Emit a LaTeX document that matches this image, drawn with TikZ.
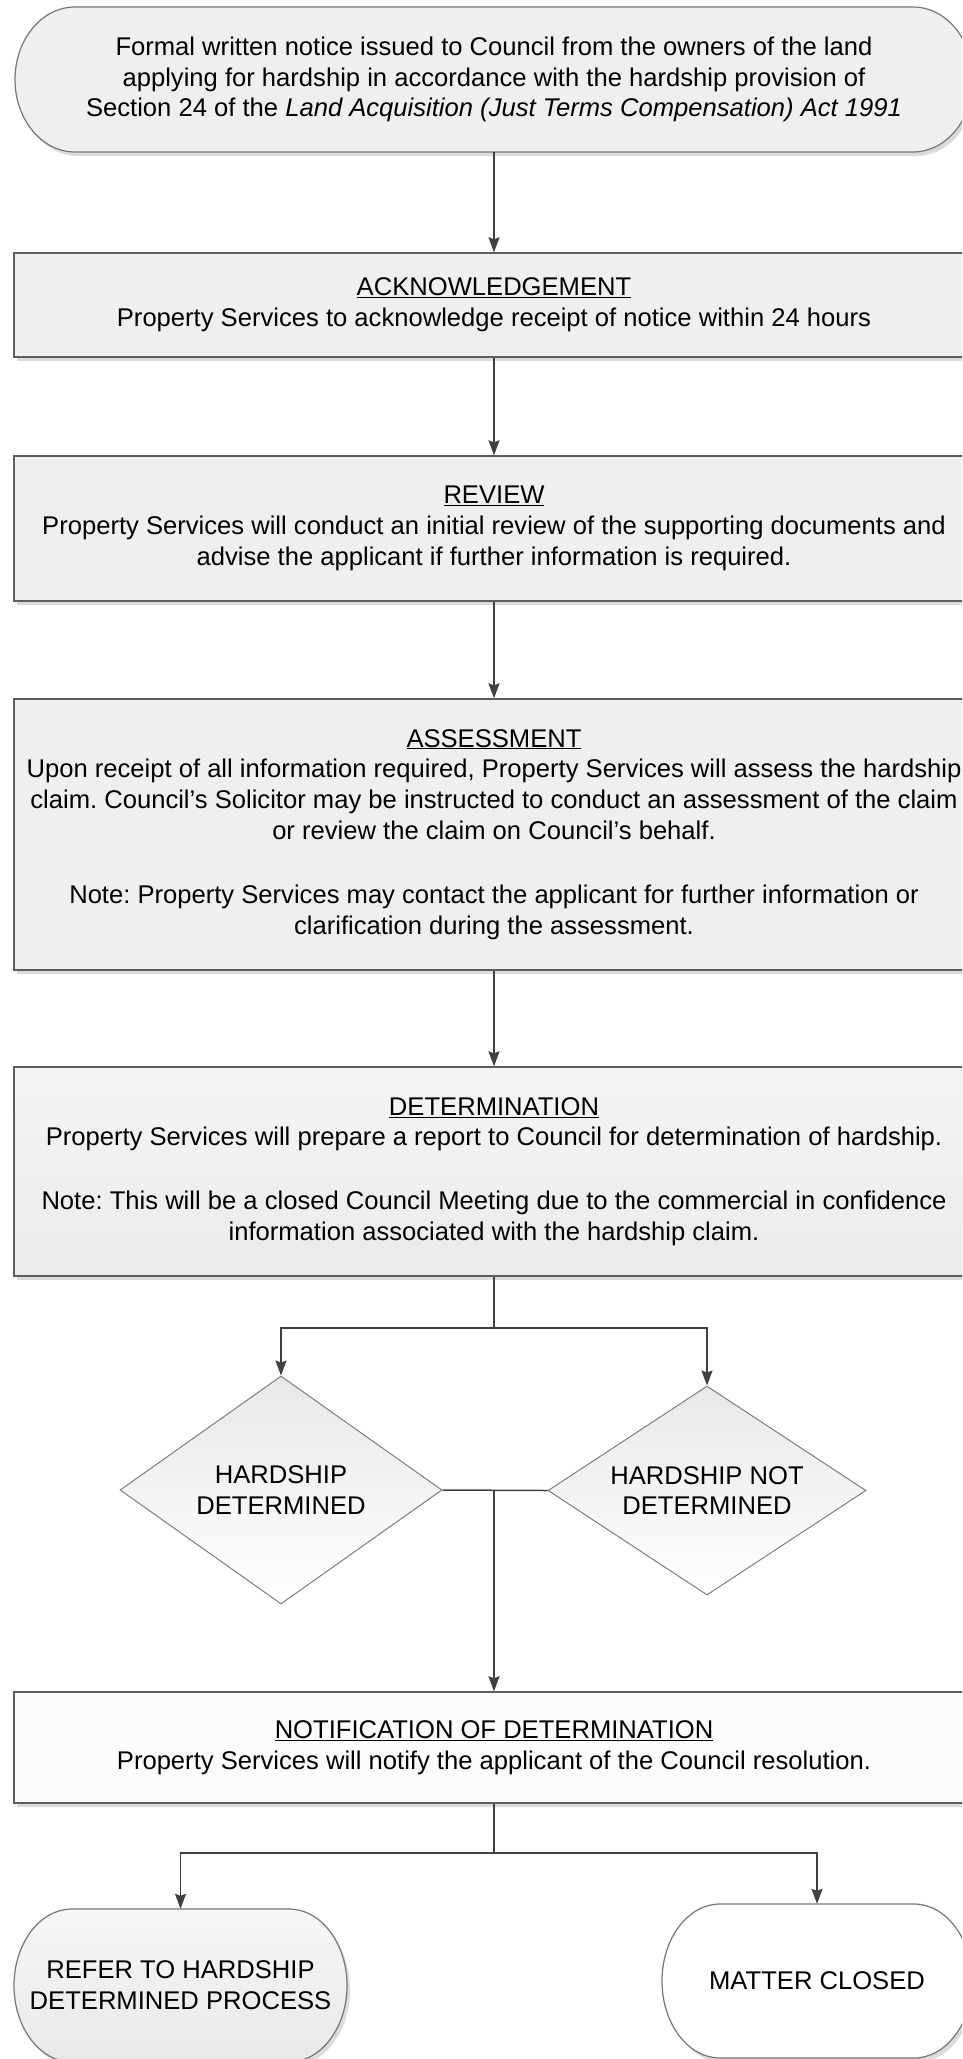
\documentclass[tikz,border=0pt]{standalone}
\usepackage{fontspec}
\setmainfont{Liberation Sans}
\usetikzlibrary{arrows.meta,shapes.geometric,shadows,calc}
\definecolor{linec}{HTML}{404040}
\definecolor{borderc}{HTML}{5E5E5E}
\definecolor{boxfill}{HTML}{EFEFEF}
\frenchspacing
\begin{document}
\begin{tikzpicture}[x=1pt,y=-1pt,
  txt/.style={font=\fontsize{25.6}{30.7}\selectfont\frenchspacing, align=center, text=black, inner sep=0pt},
  shadowed/.style={drop shadow={shadow xshift=3pt,shadow yshift=-4pt,fill=black!14,opacity=1}},
  procbox/.style={txt, rectangle, draw=borderc, line width=1.4pt, fill=boxfill, shadowed, minimum width=960pt},
  termshape/.style={draw=borderc!85, line width=1.2pt, shadowed},
  termnode/.style={txt, rectangle},
  decision/.style={txt, diamond, draw=borderc!80, line width=1pt, top color=black!9, bottom color=white},
  flow/.style={draw=linec, line width=1.5pt, -{Stealth[length=15pt,width=11pt,inset=2pt]}},
  link/.style={draw=linec, line width=1.5pt},
]
\useasboundingbox (0,0) rectangle (962,2059);
\clip (0,0) rectangle (962,2059);
\fill[white] (0,0) rectangle (962,2059);

% terminator outlines
\path[termshape, fill=boxfill] (75,7) -- (913,7)
  arc[start angle=-90,end angle=90,x radius=60,y radius=72.5] -- (75,152)
  arc[start angle=90,end angle=270,x radius=60,y radius=72.5] -- cycle;
\path[termshape, top color=black!3, bottom color=black!9] (72,1909) -- (289,1909)
  arc[start angle=-90,end angle=90,x radius=58,y radius=76.5] -- (72,2062)
  arc[start angle=90,end angle=270,x radius=58,y radius=76.5] -- cycle;
\path[termshape, fill=white] (720,1904) -- (914,1904)
  arc[start angle=-90,end angle=90,x radius=58,y radius=77] -- (720,2058)
  arc[start angle=90,end angle=270,x radius=58,y radius=77] -- cycle;

% nodes
\node[termnode, minimum width=958pt, minimum height=145pt] (top) at (494,79.5)
  {Formal written notice issued to Council from the owners of the land\\
   applying for hardship in accordance with the hardship provision of\\
   Section 24 of the \textit{Land Acquisition (Just Terms Compensation) Act 1991}};

\node[procbox, minimum height=104pt] (ack) at (494,305)
  {\underline{ACKNOWLEDGEMENT}\\
   Property Services to acknowledge receipt of notice within 24 hours};

\node[procbox, minimum height=145pt] (rev) at (494,528.5)
  {\underline{REVIEW}\\
   Property Services will conduct an initial review of the supporting documents and\\
   advise the applicant if further information is required.};

\node[procbox, minimum height=271pt] (ass) at (494,834.5)
  {\underline{ASSESSMENT}\\
   Upon receipt of all information required, Property Services will assess the hardship\\
   claim. Council’s Solicitor may be instructed to conduct an assessment of the claim\\
   or review the claim on Council’s behalf.\\[34pt]
   Note: Property Services may contact the applicant for further information or\\
   clarification during the assessment.};

\node[procbox, minimum height=209pt, top color=black!4, bottom color=black!8] (det) at (494,1171.5)
  {\underline{DETERMINATION}\\
   Property Services will prepare a report to Council for determination of hardship.\\[33pt]
   Note: This will be a closed Council Meeting due to the commercial in confidence\\
   information associated with the hardship claim.};

\node[decision, shape aspect=1.41, minimum width=322pt, minimum height=228pt] (hd) at (281,1490)
  {HARDSHIP\\DETERMINED};
\node[decision, shape aspect=1.52, minimum width=318pt, minimum height=209pt] (hnd) at (707,1490.5)
  {HARDSHIP NOT\\DETERMINED};

\node[procbox, minimum height=111pt, fill=black!1] (notif) at (494,1747.5)
  {\underline{NOTIFICATION OF DETERMINATION}\\
   Property Services will notify the applicant of the Council resolution.};

\node[termnode, minimum width=333pt, minimum height=153pt] (lbt) at (180.5,1985.5)
  {REFER TO HARDSHIP\\DETERMINED PROCESS};
\node[termnode, minimum width=310pt, minimum height=154pt] (rbt) at (817,1981)
  {MATTER CLOSED};

% junction points
\coordinate (j1) at (494,1328);
\coordinate (j2) at (494,1490);
\coordinate (j3) at (494,1853);

% connectors
\draw[flow] (top.south) -- (ack.north);
\draw[flow] (ack.south) -- (rev.north);
\draw[flow] (rev.south) -- (ass.north);
\draw[flow] (ass.south) -- (det.north);
\draw[link] (det.south) -- (j1);
\draw[flow] (j1) -| (hd.north);
\draw[flow] (j1) -| (hnd.north);
\draw[link] (hd.east) -- (hnd.west);
\draw[flow] (j2) -- (notif.north);
\draw[link] (notif.south) -- (j3);
\draw[flow] (j3) -| (lbt.north);
\draw[flow] (j3) -| (rbt.north);
\end{tikzpicture}
\end{document}
